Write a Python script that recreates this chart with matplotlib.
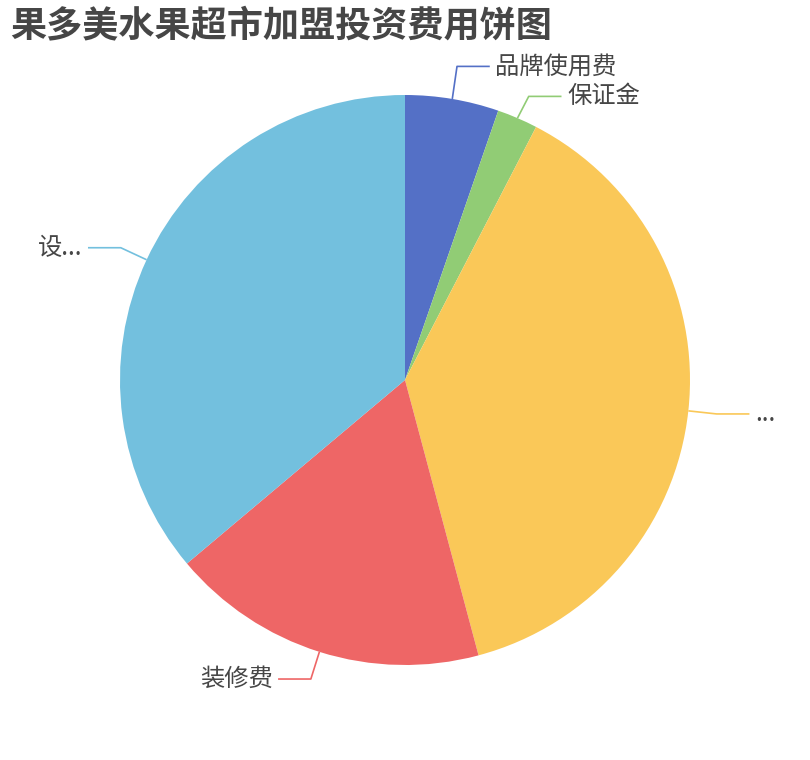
import numpy as np
import matplotlib
matplotlib.use("Agg")
import matplotlib.pyplot as plt

plt.rcParams['font.family'] = ['Noto Sans CJK SC', 'DejaVu Sans']

# data (shares, percent)
labels = ["品牌使用费", "保证金", "...", "装修费", "设..."]
values = [5.3, 2.3, 38.2, 18.0, 36.1]
colors = ["#5470c6", "#91cc75", "#fac858", "#ee6666", "#73c0de"]
title = "果多美水果超市加盟投资费用饼图"

W, H = 810, 760
R = 285  # pie radius in px

fig = plt.figure(figsize=(W / 100, H / 100), dpi=100)
ax = fig.add_axes([0, 0, 1, 1])
ax.axis("off")

wedges, _ = ax.pie(values, colors=colors, startangle=90, counterclock=False,
                   radius=1, center=(0, 0), wedgeprops=dict(linewidth=0))
ax.set_xlim(-W / 2 / R, W / 2 / R)
ax.set_ylim(-H / 2 / R, H / 2 / R)

# leader points
info = []
for w, lab, c in zip(wedges, labels, colors):
    ang = np.deg2rad((w.theta1 + w.theta2) / 2)
    x0, y0 = np.cos(ang), np.sin(ang)
    info.append(dict(x0=x0, y0=y0, x1=1.1 * x0, y1=1.1 * y0,
                     side=1 if x0 >= 0 else -1, lab=lab, c=c))

# push labels apart if they sit too close (same side)
gap = 30 / R
for side in (1, -1):
    items = sorted([d for d in info if d["side"] == side], key=lambda d: -d["y1"])
    for a, b in zip(items, items[1:]):
        d = a["y1"] - b["y1"]
        if d < gap:
            shift = (gap - d) / 2
            a["y1"] += shift
            b["y1"] -= shift

for d in info:
    side = d["side"]
    x2 = d["x1"] + side * 0.115
    ax.plot([d["x0"], d["x1"], x2], [d["y0"], d["y1"], d["y1"]], color=d["c"],
            lw=1.2, solid_capstyle="butt")
    ax.text(x2 + side * 0.02, d["y1"], d["lab"], ha="left" if side > 0 else "right",
            va="center", fontsize=17.5, color="#464646")

fig.text(10 / W, 1 - 7 / H, title, ha="left", va="top", fontsize=26,
         fontweight="bold", color="#464646")

fig.savefig("out.png", dpi=100)
